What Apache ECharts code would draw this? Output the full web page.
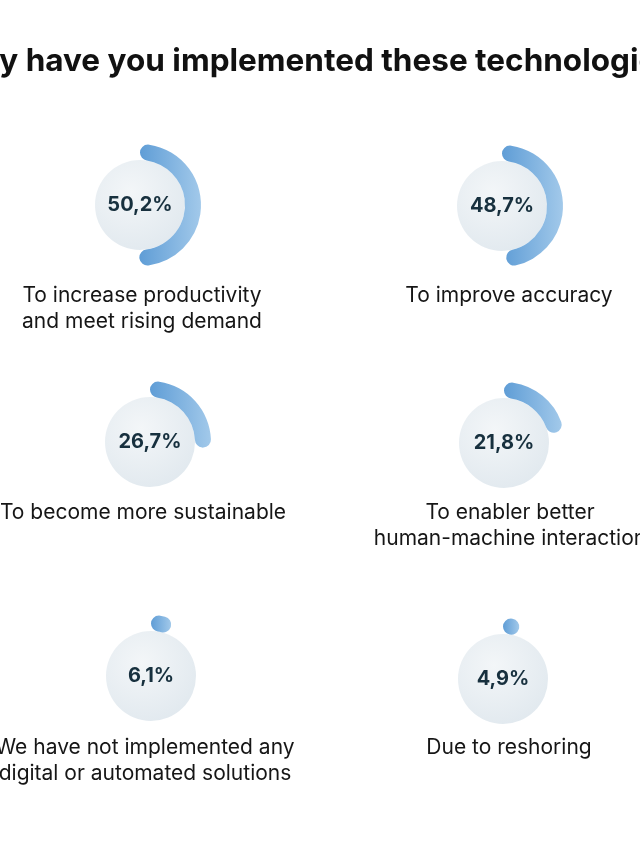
<!DOCTYPE html>
<html>
<head>
<meta charset="utf-8">
<script src="https://cdn.jsdelivr.net/npm/echarts@6/dist/echarts.min.js"></script>
<style>
  html, body { margin: 0; padding: 0; background: #ffffff; }
  #chart { width: 640px; height: 853px; }
</style>
</head>
<body>
<div id="chart"></div>
<script>
// ---- data ----
const chartTitle = 'Why have you implemented these technologies?';
const categories = [
  'To increase productivity\nand meet rising demand',
  'To improve accuracy',
  'To become more sustainable',
  'To enabler better\nhuman-machine interaction',
  'We have not implemented any\ndigital or automated solutions',
  'Due to reshoring'
];
const values = [50.2, 48.7, 26.7, 21.8, 6.1, 4.9];
const total = 100;

// ---- layout (positions only) ----
const centers = [[140, 205], [502, 206], [150, 442], [504, 443], [151, 676], [503, 679]];
const labelPos = [[142, 283], [509, 283], [143, 500], [510, 500], [145, 735], [509, 735]];

const FONT = 'Inter, "Noto Sans", sans-serif';
const chart = echarts.init(document.getElementById('chart'));

const arcColor = new echarts.graphic.LinearGradient(0, 0, 1, 0, [
  { offset: 0, color: '#5f9dd6' },
  { offset: 1, color: '#a2c9ea' }
]);
const discColor = new echarts.graphic.RadialGradient(0.4, 0.35, 0.75, [
  { offset: 0, color: '#f3f6f8' },
  { offset: 1, color: '#e0e8ee' }
]);

const fmt = (v) => String(v).replace('.', ',') + '%';

const series = [];
values.forEach((v, i) => {
  series.push({
    type: 'pie',
    silent: true,
    center: centers[i],
    radius: [0, 45],
    label: { show: false },
    labelLine: { show: false },
    itemStyle: { color: discColor },
    data: [{ value: 1, name: 'disc' + i }],
    z: 1
  });
  series.push({
    type: 'pie',
    silent: true,
    center: centers[i],
    radius: [45, 61],
    startAngle: 90,
    clockwise: true,
    avoidLabelOverlap: false,
    labelLine: { show: false },
    data: [
      {
        value: v,
        name: categories[i],
        itemStyle: { color: arcColor, borderRadius: 8 },
        label: {
          show: true,
          position: 'center',
          formatter: () => fmt(v),
          fontSize: 20,
          fontWeight: 'bold',
          fontFamily: FONT,
          color: '#17303e'
        }
      },
      {
        value: total - v,
        name: 'rest' + i,
        itemStyle: { color: 'rgba(0,0,0,0)' },
        label: { show: false }
      }
    ],
    z: 2
  });
});

const graphics = [{
  type: 'text',
  x: 320, y: 62,
  style: {
    text: chartTitle,
    font: 'bold 31.5px ' + FONT,
    fill: '#111111',
    textAlign: 'center',
    textVerticalAlign: 'middle'
  }
}];
categories.forEach((c, i) => {
  graphics.push({
    type: 'text',
    x: labelPos[i][0], y: labelPos[i][1],
    style: {
      text: c,
      font: '21px ' + FONT,
      fill: '#161616',
      textAlign: 'center',
      textVerticalAlign: 'top',
      lineHeight: 26
    }
  });
});

chart.setOption({
  backgroundColor: '#ffffff',
  animation: false,
  series: series,
  graphic: graphics
});
</script>
</body>
</html>
